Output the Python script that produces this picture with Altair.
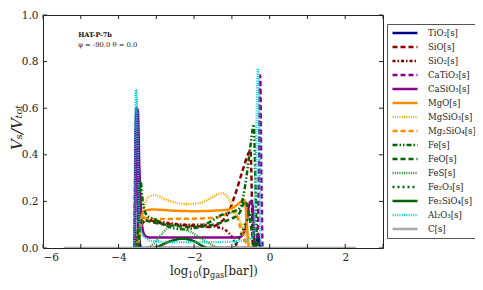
import altair as alt
import pandas as pd

# ---------------- data ----------------
species = ["TiO₂[s]", "SiO[s]", "SiO₂[s]", "CaTiO₃[s]", "CaSiO₃[s]", "MgO[s]",
           "MgSiO₃[s]", "Mg₂SiO₄[s]", "Fe[s]", "FeO[s]", "FeS[s]", "Fe₂O₃[s]",
           "Fe₂SiO₄[s]", "Al₂O₃[s]", "C[s]"]
colors = ["#00008b", "#8b0000", "#8b0000", "#8b008b", "#8b008b", "#ff8c00",
          "#ffa500", "#ff8c00", "#006400", "#006400", "#228b22", "#006400",
          "#006400", "#00ced1", "#a9a9a9"]
dashes = [[1, 0], [5, 3], [3, 2, 1.5, 2], [5, 3], [1, 0], [1, 0],
          [1, 1.3], [5, 3], [5, 2, 1.5, 2, 1.5, 2], [5, 3], [1, 1.3], [2, 3],
          [1, 0], [1, 1.3], [1, 0]]
widths = [2.5, 2.5, 2.5, 2.5, 2.5, 2.5, 1.6, 2.5, 2.5, 2.5, 1.6, 2.5, 2.5, 2.0, 2.0]

tio2_x = [-3.57, -3.53, -3.50, -3.46, -3.40, -0.45, -0.35, -0.30, -0.27, -0.24]
tio2_y = [0.0, 0.58, 0.58, 0.05, 0.0, 0.0, 0.02, 0.06, 0.02, 0.0]

sio_x = [-3.52, -3.45, -3.35, -3.0, -2.5, -2.0, -1.6, -1.3, -1.08, -0.9, -0.72, -0.55, -0.51, -0.45]
sio_y = [0.0, 0.10, 0.13, 0.11, 0.10, 0.095, 0.09, 0.11, 0.156, 0.236, 0.33, 0.41, 0.42, 0.0]

sio2_x = [-3.52, -3.42, -3.25, -2.8, -2.2, -1.7, -1.4, -1.2, -1.08, -0.97, -0.85]
sio2_y = [0.0, 0.09, 0.12, 0.11, 0.10, 0.10, 0.09, 0.08, 0.064, 0.04, 0.0]

catio3_x = [-3.58, -3.54, -3.51, -3.47, -0.40, -0.32, -0.28, -0.25, -0.22, -0.19]
catio3_y = [0.0, 0.50, 0.45, 0.0, 0.0, 0.05, 0.40, 0.74, 0.30, 0.0]

casio3_x = [-3.57, -3.53, -3.49, -3.45, -3.40, -3.35, -3.28, -3.15, -2.5, -1.5, -0.9, -0.75,
            -0.62, -0.55, -0.50, -0.45, -0.40, -0.35]
casio3_y = [0.0, 0.60, 0.59, 0.35, 0.15, 0.07, 0.05, 0.045, 0.045, 0.045, 0.045, 0.05,
            0.10, 0.18, 0.20, 0.18, 0.02, 0.0]

mgo_x = [-3.52, -3.45, -3.38, -3.3, -3.1, -2.5, -2.0, -1.5, -1.1, -0.9, -0.75, -0.66, -0.61, -0.57, -0.53]
mgo_y = [0.0, 0.05, 0.14, 0.16, 0.165, 0.16, 0.158, 0.16, 0.165, 0.18, 0.20, 0.205, 0.12, 0.03, 0.0]

mgsio3_x = [-3.5, -3.4, -3.3, -3.2, -3.05, -2.8, -2.5, -2.2, -1.9, -1.6, -1.4, -1.25,
            -1.1, -0.95, -0.8, -0.7, -0.6, -0.55, -0.5]
mgsio3_y = [0.0, 0.10, 0.19, 0.22, 0.227, 0.21, 0.195, 0.188, 0.192, 0.21, 0.228, 0.235,
            0.215, 0.17, 0.12, 0.09, 0.04, 0.01, 0.0]

mg2sio4_x = [-3.5, -3.42, -3.35, -3.2, -2.5, -1.8, -1.3, -1.1, -0.95, -0.85, -0.78, -0.7, -0.62, -0.56]
mg2sio4_y = [0.0, 0.10, 0.13, 0.125, 0.125, 0.127, 0.135, 0.15, 0.155, 0.13, 0.09, 0.05, 0.02, 0.0]

fe_x = [-3.56, -3.48, -3.42, -3.36, -3.25, -3.0, -2.8, -2.3, -2.0, -1.6, -1.3, -1.0, -0.8,
        -0.7, -0.62, -0.5, -0.45, -0.42, -0.38, -0.34, -0.31]
fe_y = [0.0, 0.10, 0.29, 0.20, 0.14, 0.12, 0.10, 0.08, 0.085, 0.11, 0.14, 0.155, 0.17,
        0.22, 0.30, 0.45, 0.51, 0.53, 0.30, 0.05, 0.0]

feo_x = [-3.48, -3.38, -3.1, -2.5, -2.0, -1.5, -1.1, -0.8, -0.65, -0.5, -0.42]
feo_y = [0.0, 0.12, 0.11, 0.095, 0.09, 0.10, 0.12, 0.15, 0.20, 0.10, 0.0]

fes_x = [-3.2, -3.0, -2.8, -2.55, -2.35, -2.1, -1.9, -1.7, -1.5, -1.35]
fes_y = [0.0, 0.03, 0.07, 0.10, 0.085, 0.07, 0.05, 0.03, 0.01, 0.0]

fe2o3_x = [-0.95, -0.75, -0.6, -0.5, -0.45, -0.38]
fe2o3_y = [0.0, 0.06, 0.12, 0.15, 0.10, 0.0]

fe2sio4_x = [-3.05, -2.9, -2.7, -2.5, -2.35, -2.1, -1.95, -1.8, -1.65]
fe2sio4_y = [0.0, 0.01, 0.025, 0.035, 0.04, 0.035, 0.025, 0.01, 0.0]

al2o3_x = [-3.58, -3.54, -3.51, -3.48, -3.44, -3.38, -3.3, -3.1, -2.5, -1.5, -0.8, -0.6,
           -0.45, -0.39, -0.35, -0.31, -0.28, -0.25, -0.22]
al2o3_y = [0.0, 0.68, 0.60, 0.30, 0.10, 0.06, 0.045, 0.03, 0.025, 0.025, 0.03, 0.035,
           0.05, 0.15, 0.50, 0.77, 0.60, 0.10, 0.0]

c_x = [-5.45, 2.28]
c_y = [0.0, 0.0]

series_x = [tio2_x, sio_x, sio2_x, catio3_x, casio3_x, mgo_x, mgsio3_x, mg2sio4_x,
            fe_x, feo_x, fes_x, fe2o3_x, fe2sio4_x, al2o3_x, c_x]
series_y = [tio2_y, sio_y, sio2_y, catio3_y, casio3_y, mgo_y, mgsio3_y, mg2sio4_y,
            fe_y, feo_y, fes_y, fe2o3_y, fe2sio4_y, al2o3_y, c_y]

x_ticks = [-6, -5, -4, -3, -2, -1, 0, 1, 2, 3]
y_ticks = [0.0, 0.2, 0.4, 0.6, 0.8, 1.0]

ann_x = [-5.07, -5.07]
ann_y = [0.907, 0.861]
ann_text = ["HAT-P-7b", "φ = -90.0 θ = 0.0"]
ann_weight = ["bold", "normal"]

# ---------------- build ----------------
rows = []
for i, name in enumerate(species):
    for xv, yv in zip(series_x[i], series_y[i]):
        rows.append({"species": name, "order": i, "x": xv, "y": yv})
df = pd.DataFrame(rows)

W, H = 340, 233
SERIF = "DejaVu Serif"
COND = "'DejaVu Serif Condensed', 'DejaVu Serif', serif"

xs = alt.Scale(domain=[-6, 3], nice=False, zero=False)
ys = alt.Scale(domain=[0, 1], nice=False, zero=False)

lines = alt.Chart(df).mark_line(interpolate="monotone", clip=True).encode(
    x=alt.X("x:Q", scale=xs,
            axis=alt.Axis(values=x_ticks, title=None, grid=False, ticks=False, domain=False,
                          labelPadding=4, labelFont=SERIF, labelFontSize=10.5, labelColor="#222")),
    y=alt.Y("y:Q", scale=ys,
            axis=alt.Axis(values=y_ticks, format=".1f", grid=False, ticks=False, domain=False,
                          labelPadding=5, labelFont=SERIF, labelFontSize=10.5, labelColor="#222",
                          title="Vₛ/Vₜₒₜ", titleFont=SERIF, titleFontStyle="italic",
                          titleFontWeight="normal", titleFontSize=15, titleColor="#222",
                          titleX=-27, titleY=112, titleAlign="center", titleBaseline="middle",
                          titleAngle=270)),
    color=alt.Color("species:N", scale=alt.Scale(domain=species, range=colors),
                    sort=species, legend=alt.Legend(title=None)),
    strokeDash=alt.StrokeDash("species:N", scale=alt.Scale(domain=species, range=dashes),
                              sort=species, legend=alt.Legend(title=None)),
    strokeWidth=alt.StrokeWidth("species:N", scale=alt.Scale(domain=species, range=widths),
                                sort=species, legend=alt.Legend(title=None)),
    order=alt.Order("x:Q"),
)

xt = pd.DataFrame({"t": x_ticks})
yt = pd.DataFrame({"t": y_ticks})
tick_bottom = alt.Chart(xt).mark_rule(color="#222", strokeWidth=1).encode(
    x=alt.X("t:Q", scale=xs), y=alt.value(H), y2=alt.value(H - 4))
tick_top = alt.Chart(xt).mark_rule(color="#222", strokeWidth=1).encode(
    x=alt.X("t:Q", scale=xs), y=alt.value(0), y2=alt.value(4))
tick_left = alt.Chart(yt).mark_rule(color="#222", strokeWidth=1).encode(
    y=alt.Y("t:Q", scale=ys), x=alt.value(0), x2=alt.value(4))
tick_right = alt.Chart(yt).mark_rule(color="#222", strokeWidth=1).encode(
    y=alt.Y("t:Q", scale=ys), x=alt.value(W), x2=alt.value(W - 4))

ann_df = pd.DataFrame({"x": ann_x, "y": ann_y, "text": ann_text, "w": ann_weight})
ann_bold = alt.Chart(ann_df[ann_df.w == "bold"]).mark_text(
    align="left", baseline="alphabetic", font=SERIF, fontSize=6.5, fontWeight="bold", color="#111"
).encode(x=alt.X("x:Q", scale=xs), y=alt.Y("y:Q", scale=ys), text="text:N")
ann_norm = alt.Chart(ann_df[ann_df.w == "normal"]).mark_text(
    align="left", baseline="alphabetic", font=SERIF, fontSize=6.8, color="#111"
).encode(x=alt.X("x:Q", scale=xs), y=alt.Y("y:Q", scale=ys), text="text:N")

# x-axis title pieces: log10(p_gas[bar])
title_parts = [("log", 127, 260, 13), ("10", 145, 263, 9), ("(p", 155, 260, 13),
               ("gas", 167, 263, 9), ("[bar])", 181, 260, 13)]
title_layers = []
for txt, px, py, fs in title_parts:
    title_layers.append(
        alt.Chart(alt.Data(values=[{"t": txt}])).mark_text(
            align="left", baseline="alphabetic", font=COND, fontSize=fs, color="#222"
        ).encode(text="t:N", x=alt.value(px), y=alt.value(py))
    )

chart = alt.layer(lines, tick_bottom, tick_top, tick_left, tick_right, ann_bold, ann_norm,
                  *title_layers).properties(
    width=W, height=H,
    padding={"left": 35, "top": 7, "right": 92, "bottom": 34},
    autosize=alt.AutoSizeParams(type="none"),
).configure_view(
    stroke="#222", strokeWidth=1
).configure_legend(
    orient="none", legendX=344, legendY=9, padding=4, strokeColor="#555", fillColor="white",
    symbolType="stroke", symbolSize=625, clipHeight=10, rowPadding=4, labelOffset=9,
    labelFont=COND, labelFontSize=9.5, labelColor="#222", cornerRadius=0
)

chart.save("out.html", embed_options={"renderer": "svg", "actions": False})
